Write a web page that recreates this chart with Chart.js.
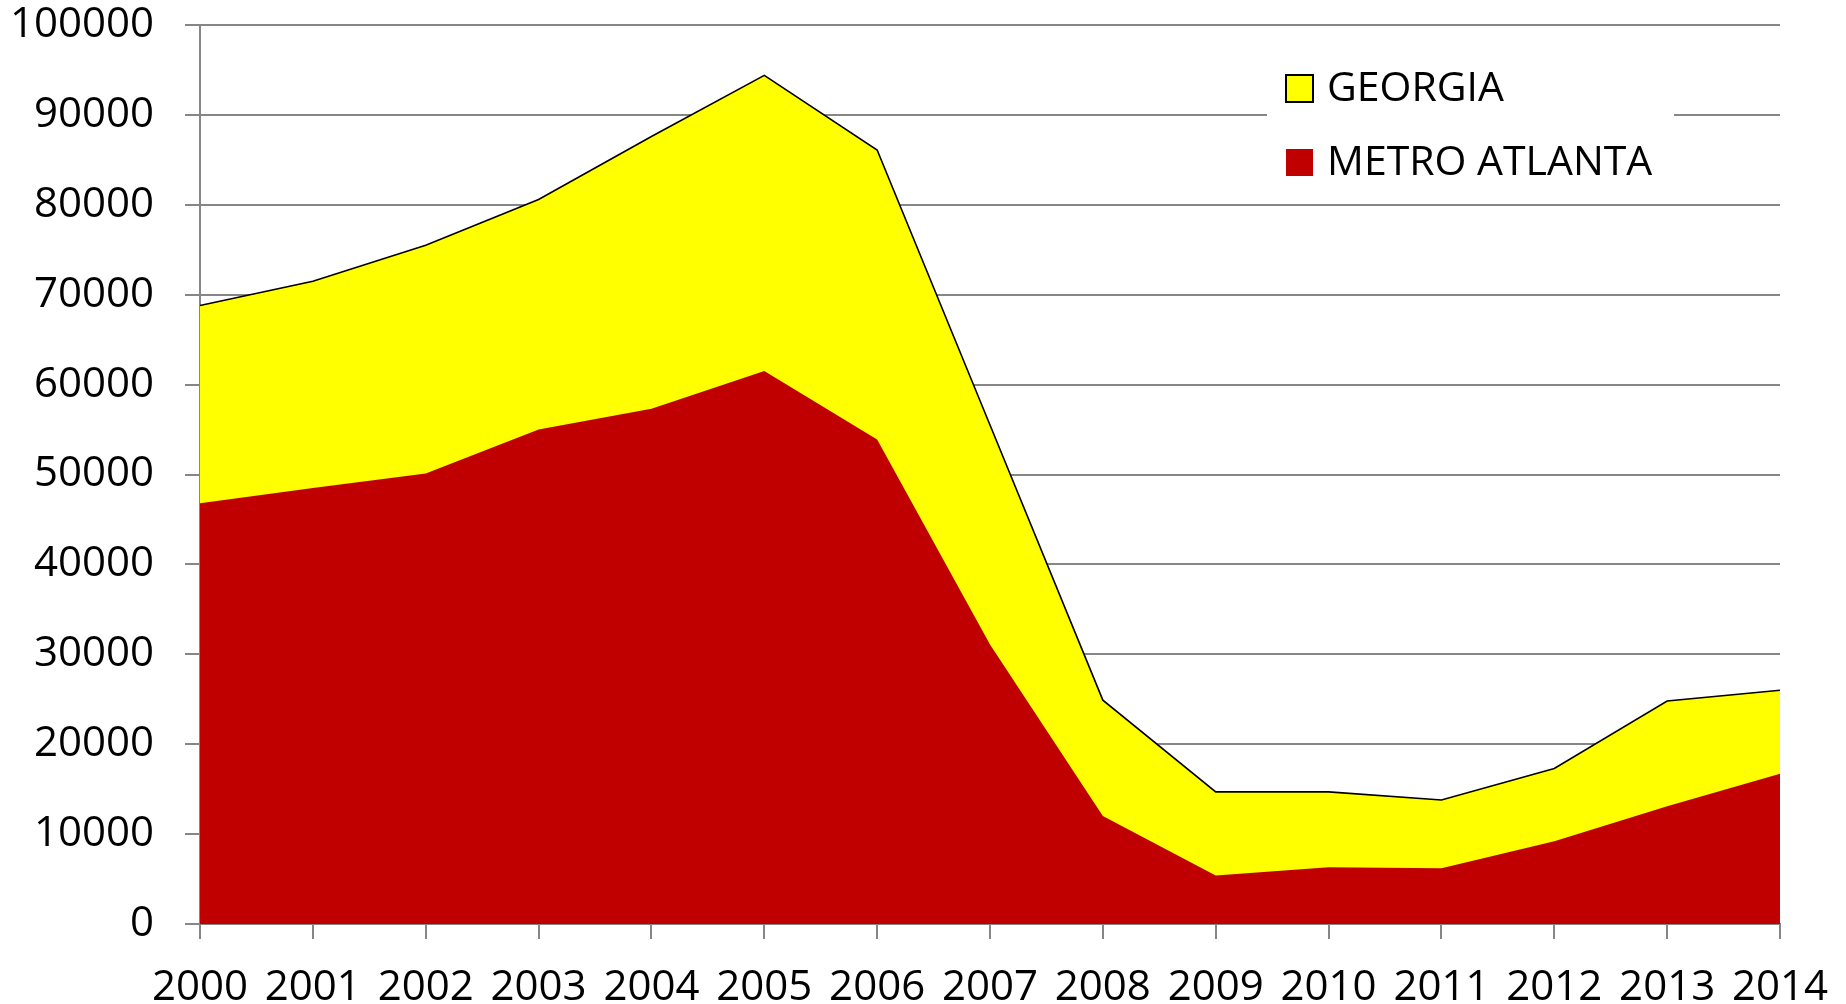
<!DOCTYPE html>
<html>
<head>
<meta charset="utf-8">
<script src="https://cdn.jsdelivr.net/npm/chart.js@4.4.0/dist/chart.umd.min.js"></script>
<style>
  html, body { margin: 0; padding: 0; background: #fff; }
  canvas { display: block; }
</style>
</head>
<body>
<canvas id="area-chart" width="1846" height="1004"></canvas>
<script>
var years = ['2000', '2001', '2002', '2003', '2004', '2005', '2006', '2007',
             '2008', '2009', '2010', '2011', '2012', '2013', '2014'];
var georgia = [68800, 71500, 75500, 80600, 87600, 94400, 86100, 55500,
               24900, 14700, 14700, 13800, 17300, 24800, 26000];
var metroAtlanta = [46800, 48500, 50100, 55000, 57300, 61500, 53900, 31100,
                    12000, 5400, 6300, 6200, 9200, 13100, 16700];
var yTicks = [0, 10000, 20000, 30000, 40000, 50000, 60000, 70000, 80000, 90000, 100000];

var gridGray = '#868686';
var fontFamily = "'Open Sans', 'Liberation Sans', Arial, sans-serif";

// legend drawn inside the plot, on a white box that hides the gridline behind it
var insideLegend = {
    id: 'insideLegend',
    afterDraw: function(chart) {
        var ctx = chart.ctx;
        ctx.save();
        ctx.fillStyle = '#ffffff';
        ctx.fillRect(1267, 40, 407, 152);
        var rows = [
            { text: 'GEORGIA', fill: '#ffff00', border: true, y: 88 },
            { text: 'METRO ATLANTA', fill: '#c00000', border: false, y: 162 }
        ];
        ctx.font = '41px ' + fontFamily;
        ctx.textBaseline = 'middle';
        rows.forEach(function(r) {
            ctx.fillStyle = r.fill;
            ctx.fillRect(1286, r.y - 13, 27, 27);
            if (r.border) {
                ctx.strokeStyle = '#000';
                ctx.lineWidth = 2;
                ctx.strokeRect(1286, r.y - 13, 27, 27);
            }
            ctx.fillStyle = '#000';
            ctx.fillText(r.text, 1327, r.y + 1);
        });
        ctx.restore();
    }
};

var areaContext = document.getElementById('area-chart').getContext('2d');

var areaChart = new Chart(areaContext, {
    type: 'line',
    data: {
        labels: years,
        datasets: [{
            label: 'METRO ATLANTA',
            data: metroAtlanta,
            backgroundColor: '#c00000',
            borderWidth: 0,
            borderColor: 'rgba(0,0,0,0)',
            fill: 'origin',
            pointRadius: 0,
            tension: 0
        }, {
            label: 'GEORGIA',
            data: georgia,
            backgroundColor: '#ffff00',
            borderColor: '#000000',
            borderWidth: 1.6,
            fill: 'origin',
            pointRadius: 0,
            tension: 0
        }]
    },
    options: {
        responsive: false,
        animation: false,
        layout: {
            padding: { top: 25, right: 66, bottom: 0, left: 0 }
        },
        plugins: {
            legend: { display: false },
            tooltip: { enabled: false }
        },
        scales: {
            x: {
                offset: false,
                grid: {
                    drawOnChartArea: false,
                    drawTicks: true,
                    tickLength: 15,
                    color: gridGray,
                    lineWidth: 2
                },
                border: { color: gridGray, width: 2 },
                ticks: {
                    color: '#000',
                    font: { family: fontFamily, size: 42 },
                    padding: 24,
                    maxRotation: 0,
                    autoSkip: false
                },
                afterFit: function(scale) {
                    scale.height = 80;
                    scale.paddingLeft = 0;
                    scale.paddingRight = 0;
                }
            },
            y: {
                min: 0,
                max: 100000,
                afterBuildTicks: function(scale) {
                    scale.ticks = yTicks.map(function(v) { return { value: v }; });
                },
                grid: {
                    color: gridGray,
                    lineWidth: 2,
                    drawTicks: true,
                    tickLength: 15
                },
                border: { color: gridGray, width: 2 },
                ticks: {
                    color: '#000',
                    font: { family: fontFamily, size: 42 },
                    padding: 31,
                    callback: function(value) { return String(value); }
                },
                afterFit: function(scale) {
                    scale.width = 200;
                    scale.paddingTop = 0;
                    scale.paddingBottom = 0;
                }
            }
        }
    },
    plugins: [insideLegend]
});
</script>
</body>
</html>
